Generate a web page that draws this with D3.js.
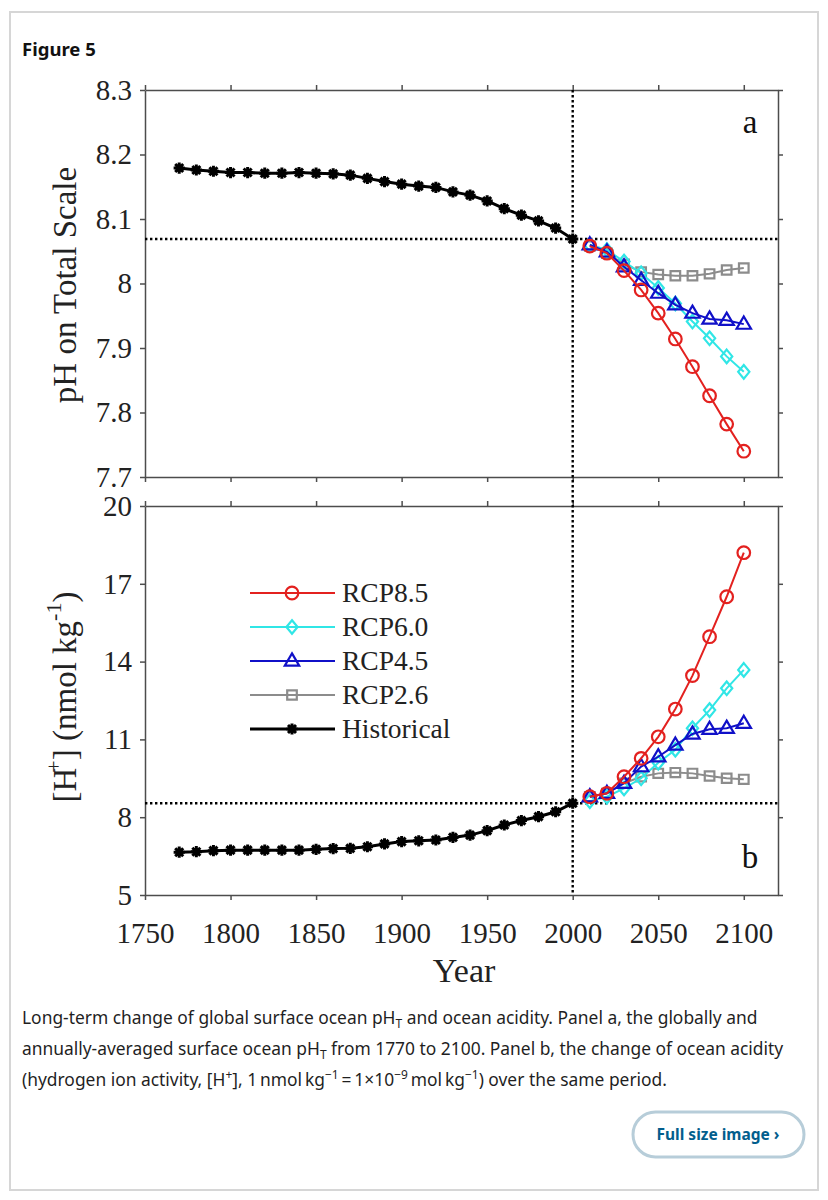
<!DOCTYPE html>
<html>
<head>
<meta charset="utf-8">
<script src="https://cdn.jsdelivr.net/npm/d3@7"></script>
<style>
  body { margin: 0; background: #fff; }
  .axis path, .axis line { stroke: #4d4d4d; stroke-width: 1.5; }
  .axis text { font-family: "Liberation Serif", serif; font-size: 29px; fill: #222; }
</style>
</head>
<body>
<svg id="figure"></svg>
<script>
// DATA
var histYears = [1770, 1780, 1790, 1800, 1810, 1820, 1830, 1840, 1850, 1860, 1870, 1880,
                 1890, 1900, 1910, 1920, 1930, 1940, 1950, 1960, 1970, 1980, 1990, 2000];
var phHist = [8.179, 8.176, 8.174, 8.172, 8.172, 8.171, 8.171, 8.172, 8.171, 8.170, 8.168, 8.163,
              8.158, 8.154, 8.151, 8.149, 8.142, 8.137, 8.128, 8.116, 8.106, 8.097, 8.086, 8.069];
var hHist = [6.65, 6.67, 6.71, 6.73, 6.73, 6.73, 6.73, 6.73, 6.76, 6.79, 6.80, 6.86,
             6.97, 7.06, 7.09, 7.12, 7.22, 7.31, 7.48, 7.70, 7.87, 8.02, 8.21, 8.54];

var projYears = [2010, 2020, 2030, 2040, 2050, 2060, 2070, 2080, 2090, 2100];
var ph85 = [8.058, 8.047, 8.020, 7.990, 7.954, 7.914, 7.871, 7.826, 7.782, 7.740];
var ph60 = [8.060, 8.052, 8.034, 8.016, 7.993, 7.969, 7.941, 7.915, 7.887, 7.863];
var ph45 = [8.060, 8.049, 8.026, 8.005, 7.985, 7.967, 7.954, 7.945, 7.943, 7.937];
var ph26 = [8.058, 8.047, 8.030, 8.018, 8.014, 8.012, 8.012, 8.015, 8.021, 8.024];
var h85 = [8.79, 8.92, 9.56, 10.27, 11.10, 12.17, 13.46, 14.96, 16.50, 18.20];
var h60 = [8.62, 8.79, 9.11, 9.50, 10.10, 10.60, 11.43, 12.13, 12.97, 13.68];
var h45 = [8.79, 8.92, 9.31, 9.95, 10.33, 10.78, 11.21, 11.39, 11.43, 11.62];
var h26 = [8.79, 8.92, 9.31, 9.56, 9.69, 9.72, 9.69, 9.59, 9.50, 9.46];

var refYear = 2000;
var refPH = 8.069;
var refH = 8.54;

var xTicks = [1750, 1800, 1850, 1900, 1950, 2000, 2050, 2100];
var phTicks = [7.7, 7.8, 7.9, 8, 8.1, 8.2, 8.3];
var hTicks = [5, 8, 11, 14, 17, 20];

var seriesNames = ["RCP8.5", "RCP6.0", "RCP4.5", "RCP2.6", "Historical"];
var seriesColors = ["#e3211f", "#30e6e6", "#1010c8", "#8c8c8c", "#000000"];
var seriesMarkers = ["circle", "diamond", "triangle", "square", "star"];

// NEEDED VARIABLES
var width = 828;
var height = 1200;
var plot = {left: 145, right: 778};
var panelA = {top: 90, bottom: 477};
var panelB = {top: 506, bottom: 895};
var serif = '"Liberation Serif", "Times New Roman", serif';
var sans = '"Noto Sans", "Open Sans", sans-serif';

var svg = d3.select("#figure")
  .attr("width", width)
  .attr("height", height)
  ;

// Scales
var xScale = d3.scaleLinear().domain([1750, 2120]).range([plot.left, plot.right]);
var yA = d3.scaleLinear().domain([7.7, 8.3]).range([panelA.bottom, panelA.top]);
var yB = d3.scaleLinear().domain([5, 20]).range([panelB.bottom, panelB.top]);

// Marker shapes
function markerPath(type){
  if (type == "circle") return "M6.3,0A6.3,6.3,0,1,1,-6.3,0A6.3,6.3,0,1,1,6.3,0Z";
  if (type == "diamond") return "M0,-6.8L5.6,0L0,6.8L-5.6,0Z";
  if (type == "triangle") return "M0,-7.6L7.2,4.6L-7.2,4.6Z";
  if (type == "square") return "M-4.8,-4.6H4.8V4.6H-4.8Z";
  return "M-5.6,0H5.6M0,-5.6V5.6M-4,-4L4,4M-4,4L4,-4";
}

// CARD + HEADER
svg.append("rect")
  .attr("x", 10).attr("y", 12)
  .attr("width", 808).attr("height", 1178)
  .attr("fill", "none")
  .attr("stroke", "#d6d6d6")
  .attr("stroke-width", 2)
  ;

svg.append("text")
  .attr("x", 22).attr("y", 56)
  .style("font-family", sans)
  .style("font-size", "18.5px")
  .style("font-weight", "bold")
  .attr("fill", "#111")
  .text("Figure 5")
  ;

// PANELS
function drawPanel(yScale, box, ticks, showXLabels, series, hist){
  var g = svg.append("g");

  g.append("g").attr("class", "axis")
    .attr("transform", "translate(" + plot.left + ",0)")
    .call(d3.axisLeft(yScale).tickValues(ticks).tickSize(5).tickSizeOuter(0).tickPadding(8).tickFormat(d => String(d)))
    ;
  g.append("g").attr("class", "axis")
    .attr("transform", "translate(" + plot.right + ",0)")
    .call(d3.axisRight(yScale).tickValues(ticks).tickSize(5).tickSizeOuter(0).tickFormat(""))
    ;
  g.append("g").attr("class", "axis")
    .attr("transform", "translate(0," + box.top + ")")
    .call(d3.axisTop(xScale).tickValues(xTicks).tickSize(5).tickSizeOuter(0).tickFormat(""))
    ;
  g.append("g").attr("class", "axis")
    .attr("transform", "translate(0," + box.bottom + ")")
    .call(d3.axisBottom(xScale).tickValues(xTicks).tickSize(5).tickSizeOuter(0).tickPadding(22)
      .tickFormat(showXLabels ? (d => String(d)) : ""))
    ;

  // horizontal dotted reference
  g.append("line")
    .attr("x1", plot.left).attr("x2", plot.right)
    .attr("y1", yScale(series.ref)).attr("y2", yScale(series.ref))
    .attr("stroke", "#000").attr("stroke-width", 2.4)
    .attr("stroke-dasharray", "2.4,2.6")
    ;

  // projections, drawn under the history
  var line = d3.line().x(d => xScale(d[0])).y(d => yScale(d[1]));
  var order = [3, 1, 2, 0];
  order.forEach(function(k){
    var pts = projYears.map((yr, i) => [yr, series.values[k][i]]);
    g.append("path")
      .datum(pts)
      .attr("d", line)
      .attr("fill", "none")
      .attr("stroke", seriesColors[k])
      .attr("stroke-width", 2)
      ;
    g.selectAll(null)
      .data(pts)
      .join("path")
      .attr("transform", d => "translate(" + xScale(d[0]) + "," + yScale(d[1]) + ")")
      .attr("d", markerPath(seriesMarkers[k]))
      .attr("fill", "none")
      .attr("stroke", seriesColors[k])
      .attr("stroke-width", 2.2)
      ;
  });

  var histPts = histYears.map((yr, i) => [yr, hist[i]]);
  g.append("path")
    .datum(histPts)
    .attr("d", line)
    .attr("fill", "none")
    .attr("stroke", "#000")
    .attr("stroke-width", 3)
    ;
  var stars = g.selectAll(null)
    .data(histPts)
    .join("g")
    .attr("transform", d => "translate(" + xScale(d[0]) + "," + yScale(d[1]) + ")")
    ;
  stars.append("path")
    .attr("d", markerPath("star"))
    .attr("stroke", "#000")
    .attr("stroke-width", 3)
    ;
  stars.append("circle").attr("r", 3.6).attr("fill", "#000");

  g.append("text")
    .attr("x", 750).attr("y", series.labelY)
    .attr("text-anchor", "middle")
    .style("font-family", serif)
    .style("font-size", "33px")
    .attr("fill", "#111")
    .text(series.label)
    ;
  return g;
}

drawPanel(yA, panelA, phTicks, false, {ref: refPH, values: [ph85, ph60, ph45, ph26], label: "a", labelY: 133}, phHist);
drawPanel(yB, panelB, hTicks, true, {ref: refH, values: [h85, h60, h45, h26], label: "b", labelY: 868}, hHist);

// vertical dotted line at 2000 through both panels
svg.append("line")
  .attr("x1", xScale(refYear)).attr("x2", xScale(refYear))
  .attr("y1", yA(8.3)).attr("y2", yB(5))
  .attr("stroke", "#000").attr("stroke-width", 2.4)
  .attr("stroke-dasharray", "2.4,2.6")
  ;

// AXIS TITLES
svg.append("text")
  .attr("transform", "translate(76,285) rotate(-90)")
  .attr("text-anchor", "middle")
  .style("font-family", serif)
  .style("font-size", "33px")
  .attr("fill", "#222")
  .text("pH on Total Scale")
  ;

var hLabel = svg.append("text")
  .attr("transform", "translate(76,697) rotate(-90)")
  .attr("text-anchor", "middle")
  .style("font-family", serif)
  .style("font-size", "33px")
  .attr("fill", "#222")
  ;
hLabel.append("tspan").text("[H");
hLabel.append("tspan").attr("dy", -15).attr("dx", -5).style("font-size", "22px").text("+");
hLabel.append("tspan").attr("dy", 15).text("] (nmol kg");
hLabel.append("tspan").attr("dy", -15).style("font-size", "22px").text("-1");
hLabel.append("tspan").attr("dy", 15).text(")");

svg.append("text")
  .attr("x", 464).attr("y", 982)
  .attr("text-anchor", "middle")
  .style("font-family", serif)
  .style("font-size", "34px")
  .attr("fill", "#222")
  .text("Year")
  ;

// LEGEND
var legendY = [593, 627, 661, 695, 729];
var legend = svg.append("g")
  .selectAll("g")
  .data(seriesNames)
  .join("g")
  .attr("transform", (d, i) => "translate(0," + legendY[i] + ")")
  ;
legend.append("line")
  .attr("x1", 250).attr("x2", 335)
  .attr("stroke", (d, i) => seriesColors[i])
  .attr("stroke-width", (d, i) => i == 4 ? 3 : 2.2)
  ;
legend.append("path")
  .attr("transform", "translate(292,0)")
  .attr("d", (d, i) => markerPath(seriesMarkers[i]))
  .attr("fill", "none")
  .attr("stroke", (d, i) => seriesColors[i])
  .attr("stroke-width", (d, i) => i == 4 ? 3 : 2.2)
  ;
legend.filter((d, i) => i == 4).append("circle").attr("cx", 292).attr("r", 3.6).attr("fill", "#000");
legend.append("text")
  .attr("x", 342).attr("dy", "0.34em")
  .style("font-family", serif)
  .style("font-size", "27.5px")
  .attr("fill", "#222")
  .text(d => d)
  ;

// CAPTION
var caption = svg.append("g")
  .style("font-family", sans)
  .style("font-size", "17.4px")
  .attr("fill", "#1f1f1f")
  ;
var l1 = caption.append("text").attr("x", 22).attr("y", 1024);
l1.append("tspan").text("Long-term change of global surface ocean pH");
l1.append("tspan").attr("dy", 4).style("font-size", "12px").text("T");
l1.append("tspan").attr("dy", -4).text(" and ocean acidity. Panel a, the globally and");

var l2 = caption.append("text").attr("x", 22).attr("y", 1055);
l2.append("tspan").text("annually-averaged surface ocean pH");
l2.append("tspan").attr("dy", 4).style("font-size", "12px").text("T");
l2.append("tspan").attr("dy", -4).text(" from 1770 to 2100. Panel b, the change of ocean acidity");

var l3 = caption.append("text").attr("x", 22).attr("y", 1086);
l3.append("tspan").text("(hydrogen ion activity, [H");
l3.append("tspan").attr("dy", -7).style("font-size", "12px").text("+");
l3.append("tspan").attr("dy", 7).text("], 1\u2009nmol\u2009kg");
l3.append("tspan").attr("dy", -7).style("font-size", "12px").text("\u22121");
l3.append("tspan").attr("dy", 7).text("\u2009=\u20091\u00d710");
l3.append("tspan").attr("dy", -7).style("font-size", "12px").text("\u22129");
l3.append("tspan").attr("dy", 7).text("\u2009mol\u2009kg");
l3.append("tspan").attr("dy", -7).style("font-size", "12px").text("\u22121");
l3.append("tspan").attr("dy", 7).text(") over the same period.");

// BUTTON
svg.append("rect")
  .attr("x", 633).attr("y", 1112)
  .attr("width", 171).attr("height", 45)
  .attr("rx", 22.5)
  .attr("fill", "#fff")
  .attr("stroke", "#b7cdd9")
  .attr("stroke-width", 3)
  ;
svg.append("text")
  .attr("x", 718).attr("y", 1140)
  .attr("text-anchor", "middle")
  .style("font-family", sans)
  .style("font-size", "15.5px")
  .style("font-weight", "bold")
  .attr("fill", "#025e8d")
  .text("Full size image \u203a")
  ;
</script>
</body>
</html>
